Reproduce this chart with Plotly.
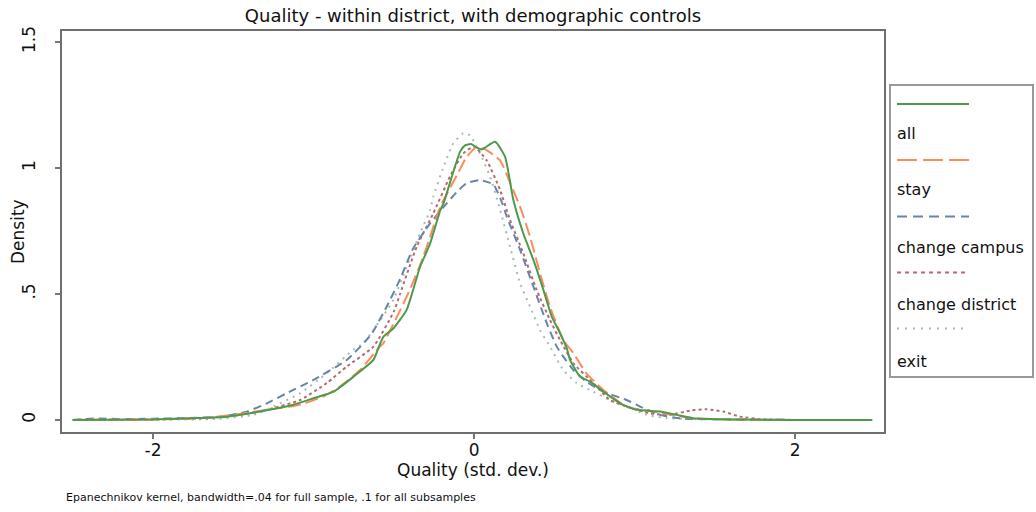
import plotly.graph_objects as go

# ---- data ----
all_x = [-2.5, -2.0, -1.75, -1.54, -1.333, -1.126, -1.0, -0.875, -0.75, -0.627, -0.596, -0.565, -0.50, -0.42, -0.336, -0.274, -0.21, -0.19, -0.087, -0.056, -0.02, 0.02, 0.048, 0.131, 0.193, 0.245, 0.307, 0.37, 0.432, 0.484, 0.536, 0.578, 0.598, 0.66, 0.723, 0.806, 0.91, 1.014, 1.159, 1.26, 1.365, 1.6, 2.0, 2.48]
all_y = [0.0, 0.002, 0.007, 0.013, 0.033, 0.06, 0.086, 0.112, 0.172, 0.238, 0.285, 0.33, 0.365, 0.437, 0.608, 0.70, 0.833, 0.86, 1.065, 1.09, 1.095, 1.08, 1.074, 1.104, 1.045, 0.873, 0.74, 0.635, 0.516, 0.41, 0.344, 0.284, 0.238, 0.172, 0.152, 0.112, 0.066, 0.04, 0.033, 0.02, 0.007, 0.002, 0.0, 0.0]

stay_x = [-2.5, -2.0, -1.707, -1.5, -1.29, -1.084, -0.939, -0.835, -0.71, -0.586, -0.565, -0.48, -0.40, -0.316, -0.21, -0.1, -0.05, 0.017, 0.08, 0.162, 0.245, 0.287, 0.349, 0.411, 0.473, 0.556, 0.619, 0.70, 0.806, 0.95, 1.117, 1.365, 1.6, 2.0, 2.48]
stay_y = [0.0, 0.002, 0.007, 0.02, 0.04, 0.06, 0.093, 0.132, 0.198, 0.291, 0.304, 0.41, 0.516, 0.648, 0.846, 0.98, 1.04, 1.085, 1.07, 1.03, 0.91, 0.846, 0.727, 0.582, 0.45, 0.317, 0.265, 0.185, 0.119, 0.053, 0.033, 0.007, 0.002, 0.0, 0.0]

campus_x = [-2.5, -2.35, -2.2, -2.0, -1.8, -1.58, -1.416, -1.29, -1.167, -1.0, -0.793, -0.64, -0.544, -0.46, -0.38, -0.274, -0.17, -0.1, -0.045, 0.037, 0.12, 0.17, 0.204, 0.287, 0.37, 0.453, 0.515, 0.556, 0.619, 0.70, 0.806, 0.95, 1.034, 1.159, 1.3, 1.6, 2.0, 2.48]
campus_y = [0.0, 0.006, 0.003, 0.005, 0.007, 0.013, 0.033, 0.066, 0.106, 0.159, 0.238, 0.34, 0.45, 0.56, 0.68, 0.78, 0.86, 0.91, 0.94, 0.952, 0.935, 0.87, 0.807, 0.675, 0.529, 0.384, 0.291, 0.251, 0.198, 0.152, 0.112, 0.079, 0.053, 0.02, 0.005, 0.002, 0.0, 0.0]

district_x = [-2.5, -2.0, -1.7, -1.458, -1.29, -1.084, -0.918, -0.793, -0.627, -0.5, -0.461, -0.357, -0.254, -0.15, -0.067, 0.0, 0.079, 0.162, 0.224, 0.307, 0.39, 0.473, 0.536, 0.619, 0.743, 0.847, 0.95, 1.097, 1.22, 1.346, 1.45, 1.553, 1.657, 1.8, 2.0, 2.48]
district_y = [0.0, 0.002, 0.006, 0.02, 0.04, 0.079, 0.146, 0.212, 0.291, 0.43, 0.50, 0.688, 0.82, 0.966, 1.058, 1.085, 1.03, 0.913, 0.794, 0.661, 0.516, 0.397, 0.317, 0.225, 0.146, 0.079, 0.053, 0.026, 0.02, 0.037, 0.042, 0.033, 0.013, 0.002, 0.0, 0.0]

exit_x = [-2.5, -2.0, -1.6, -1.375, -1.25, -1.084, -0.918, -0.75, -0.69, -0.627, -0.503, -0.42, -0.336, -0.274, -0.254, -0.19, -0.129, -0.067, -0.025, 0.037, 0.1, 0.162, 0.224, 0.287, 0.349, 0.411, 0.473, 0.556, 0.64, 0.743, 0.847, 0.95, 1.076, 1.2, 1.5, 2.0, 2.48]
exit_y = [0.0, 0.001, 0.004, 0.02, 0.053, 0.106, 0.185, 0.28, 0.304, 0.357, 0.476, 0.608, 0.741, 0.833, 0.886, 1.005, 1.098, 1.138, 1.13, 1.058, 0.966, 0.835, 0.688, 0.542, 0.45, 0.357, 0.291, 0.198, 0.146, 0.112, 0.079, 0.053, 0.02, 0.007, 0.002, 0.0, 0.0]

series_names = ["all", "stay", "change campus", "change district", "exit"]
colors = ["#4e9a4c", "#ff8a5c", "#6785aa", "#b56b6e", "#a5bdb0"]
curve_dash = ["solid", "13px,5px", "8px,5px", "3px,3px", "2px,5px"]
legend_dash = ["solid", "20px,6px", "10px,6px", "4px,4px", "2px,6px"]

x_ticks = [-2, 0, 2]
x_tick_text = ["-2", "0", "2"]
y_ticks = [0, 0.5, 1, 1.5]
y_tick_text = ["0", ".5", "1", "1.5"]

FONT = "DejaVu Sans, Liberation Sans, Arial, sans-serif"

fig = go.Figure()
data = [(all_x, all_y), (stay_x, stay_y), (campus_x, campus_y),
        (district_x, district_y), (exit_x, exit_y)]
# draw in reverse so "all" is on top
for i in [4, 3, 2, 1, 0]:
    xs, ys = data[i]
    fig.add_trace(go.Scatter(
        x=xs, y=ys, mode="lines", name=series_names[i],
        line=dict(color=colors[i], width=2, dash=curve_dash[i], shape="spline", smoothing=0.5),
        showlegend=False, hoverinfo="skip"))

W, H = 1036, 512
L, R, T, B = 62, 152, 31, 80
pw, ph = W - L - R, H - T - B

def px2paper_x(px):
    return (px - L) / pw

def px2paper_y(py):
    return (H - B - py) / ph

# ---- manual Stata-like legend (key above label) ----
shapes = []
annotations = []
shapes.append(dict(type="rect", xref="paper", yref="paper",
                   x0=px2paper_x(890), x1=px2paper_x(1033),
                   y0=px2paper_y(377), y1=px2paper_y(85),
                   line=dict(color="#999999", width=2), fillcolor="white", layer="below"))
key_y = [104, 160, 216.5, 272.5, 328.5]
lab_y = [133, 190, 247, 304, 361]
for i in range(5):
    shapes.append(dict(type="line", xref="paper", yref="paper",
                       x0=px2paper_x(897), x1=px2paper_x(969),
                       y0=px2paper_y(key_y[i]), y1=px2paper_y(key_y[i]),
                       line=dict(color=colors[i], width=2, dash=legend_dash[i])))
    annotations.append(dict(xref="paper", yref="paper",
                            x=px2paper_x(895), y=px2paper_y(lab_y[i]),
                            xanchor="left", yanchor="middle", showarrow=False,
                            text=series_names[i],
                            font=dict(family=FONT, size=16, color="#111111")))

annotations.append(dict(xref="paper", yref="paper", x=px2paper_x(64), y=px2paper_y(497),
                        xanchor="left", yanchor="middle", showarrow=False,
                        text="Epanechnikov kernel, bandwidth=.04 for full sample, .1 for all subsamples",
                        font=dict(family=FONT, size=11, color="#111111")))

# y-axis title placed like Stata's
annotations.append(dict(xref="paper", yref="paper", x=px2paper_x(18), y=px2paper_y(232),
                        xanchor="center", yanchor="middle", showarrow=False, textangle=-90,
                        text="Density", font=dict(family=FONT, size=17, color="#111111")))

fig.update_layout(
    width=W, height=H,
    margin=dict(l=L, r=R, t=T, b=B),
    paper_bgcolor="white", plot_bgcolor="white",
    title=dict(text="Quality - within district, with demographic controls",
               x=(L + pw / 2) / W, xanchor="center", y=1 - 16 / H, yanchor="middle",
               font=dict(family=FONT, size=18, color="#111111")),
    font=dict(family=FONT, size=16, color="#111111"),
    shapes=shapes, annotations=annotations,
    showlegend=False,
)
fig.update_xaxes(range=[-2.567, 2.554], tickvals=x_ticks, ticktext=x_tick_text,
                 ticks="outside", ticklen=5, tickwidth=1.5, tickcolor="#777777",
                 ticklabelstandoff=-3,
                 showline=True, linecolor="#6f6f6f", linewidth=2, mirror=True,
                 showgrid=False, zeroline=False,
                 title=dict(text="Quality (std. dev.)", standoff=4,
                            font=dict(family=FONT, size=17)),
                 tickfont=dict(family=FONT, size=17))
fig.update_yaxes(range=[-0.048, 1.544], tickvals=y_ticks, ticktext=y_tick_text,
                 ticks="outside", ticklen=5, tickwidth=1.5, tickcolor="#777777",
                 tickangle=-90, ticklabelstandoff=13,
                 showline=True, linecolor="#6f6f6f", linewidth=2, mirror=True,
                 showgrid=False, zeroline=False,
                 tickfont=dict(family=FONT, size=17))

fig.write_html("out.html", config={"displayModeBar": False},
               post_script="document.body.style.margin='0px';")
